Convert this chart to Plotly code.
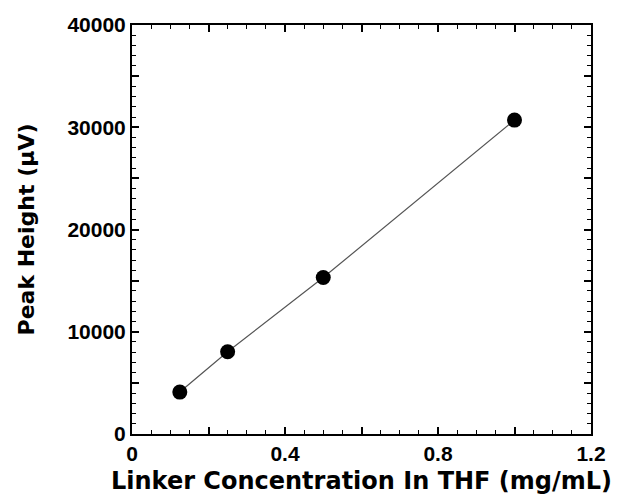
import plotly.graph_objects as go

concentration = [0.125, 0.25, 0.5, 1.0]
peak_height = [4100, 8050, 15300, 30700]

x_tickvals = [0, 0.2, 0.4, 0.6, 0.8, 1.0, 1.2]
x_ticktext = ["0", "", "0.4", "", "0.8", "", "1.2"]
y_tickvals = [0, 5000, 10000, 15000, 20000, 25000, 30000, 35000, 40000]
y_ticktext = ["0", "", "10000", "", "20000", "", "30000", "", "40000"]

fig = go.Figure()
fig.add_trace(go.Scatter(
    x=concentration, y=peak_height, mode="lines",
    line=dict(color="#555555", width=1.2), showlegend=False, hoverinfo="skip"))
fig.add_trace(go.Scatter(
    x=concentration, y=peak_height, mode="markers",
    marker=dict(color="black", size=15), showlegend=False))

tick_family = "Liberation Sans, Arial, sans-serif"
title_family = "DejaVu Sans, sans-serif"
axis_common = dict(
    showline=True, linecolor="black", linewidth=2, mirror="ticks",
    ticks="inside", ticklen=7, tickwidth=1.5, tickcolor="black",
    showgrid=False, zeroline=False,
    tickfont=dict(family=tick_family, size=21, color="black", weight="bold"),
)

fig.update_xaxes(
    range=[0, 1.2], tickmode="array", tickvals=x_tickvals, ticktext=x_ticktext,
    minor=dict(dtick=0.05, ticks="inside", ticklen=4, tickwidth=1.2, tickcolor="black", showgrid=False),
    title=dict(text="Linker Concentration In THF (mg/mL)",
               font=dict(family=title_family, size=24, color="black", weight="bold"),
               standoff=8),
    automargin=False,
    **axis_common)
fig.update_yaxes(
    range=[0, 40000], tickmode="array", tickvals=y_tickvals, ticktext=y_ticktext,
    minor=dict(dtick=1000, ticks="inside", ticklen=4, tickwidth=1.2, tickcolor="black", showgrid=False),
    title=dict(text="Peak Height (μV)",
               font=dict(family=title_family, size=22, color="black", weight="bold"),
               standoff=27),
    automargin=False,
    **axis_common)

fig.update_layout(
    width=618, height=501,
    margin=dict(l=132, r=27, t=25, b=67),
    paper_bgcolor="white", plot_bgcolor="white",
)

fig.write_html("out.html")
